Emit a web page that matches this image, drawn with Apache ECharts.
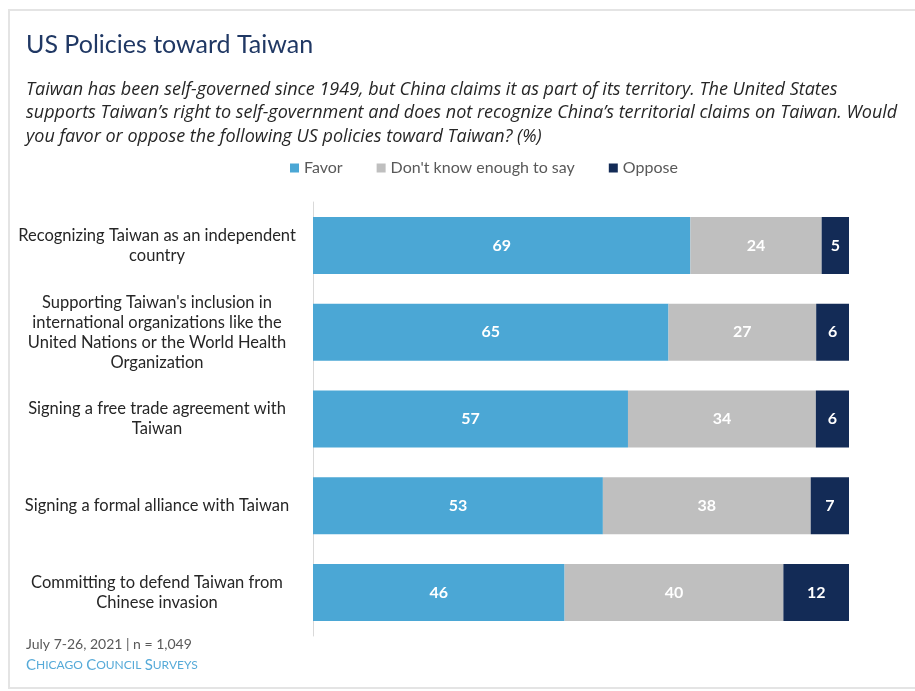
<!DOCTYPE html>
<html>
<head>
<meta charset="utf-8">
<script src="https://cdn.jsdelivr.net/npm/echarts@6/dist/echarts.min.js"></script>
<style>
  html, body { margin: 0; padding: 0; background: #fff; }
  #main { width: 915px; height: 691px; }
</style>
</head>
<body>
<div id="main"></div>
<script>
const categories = [
  'Recognizing Taiwan as an independent\ncountry',
  "Supporting Taiwan's inclusion in\ninternational organizations like the\nUnited Nations or the World Health\nOrganization",
  'Signing a free trade agreement with\nTaiwan',
  'Signing a formal alliance with Taiwan',
  'Committing to defend Taiwan from\nChinese invasion'
]
const seriesNames = ['Favor', "Don't know enough to say", 'Oppose']
const favor = [69, 65, 57, 53, 46]
const dontKnow = [24, 27, 34, 38, 40]
const oppose = [5, 6, 6, 7, 12]

const colors = ['#4ba7d5', '#bfbfbf', '#132b56']
const font = 'Lato, "Noto Sans", sans-serif'

// bars are stretched to full width per row (share of answers given)
const totals = favor.map((v, i) => v + dontKnow[i] + oppose[i])
const share = (arr) => arr.map((v, i) => ({ value: v / totals[i] * 100, raw: v }))

const chart = echarts.init(document.getElementById('main'))

const makeSeries = (name, arr, color) => ({
  name: name,
  type: 'bar',
  stack: 'total',
  barWidth: 57,
  data: share(arr),
  itemStyle: { color: color },
  label: {
    show: true,
    position: 'inside',
    color: '#fff',
    fontFamily: font,
    fontWeight: 'bold',
    fontSize: 16,
    formatter: (p) => p.data.raw,
  },
})

const option = {
  animation: false,
  graphic: [
    {
      type: 'rect',
      shape: { x: 9, y: 10, width: 915, height: 678 },
      style: { fill: 'none', stroke: '#e4e4e4', lineWidth: 2 },
      silent: true,
    },
    {
      type: 'text',
      left: 26,
      top: 32,
      style: {
        text: 'US Policies toward Taiwan',
        fill: '#203864',
        font: '25px ' + font,
      },
    },
    {
      type: 'text',
      left: 26,
      top: 78,
      style: {
        text: 'Taiwan has been self-governed since 1949, but China claims it as part of its territory. The United States\n' +
          'supports Taiwan\u2019s right to self-government and does not recognize China\u2019s territorial claims on Taiwan. Would\n' +
          'you favor or oppose the following US policies toward Taiwan? (%)',
        fill: '#262626',
        font: 'italic 18px "Open Sans", sans-serif',
        lineHeight: 23.5,
      },
    },
    {
      type: 'text',
      left: 26,
      top: 637,
      style: {
        text: 'July 7-26, 2021 | n = 1,049',
        fill: '#595959',
        font: '14px ' + font,
      },
    },
    {
      type: 'text',
      left: 26,
      top: 658,
      style: {
        text: '{b|C}{s|HICAGO} {b|C}{s|OUNCIL} {b|S}{s|URVEYS}',
        rich: {
          b: { fontSize: 15, fontFamily: font, fill: '#56aad8', color: '#56aad8' },
          s: { fontSize: 12, fontFamily: font, fill: '#56aad8', color: '#56aad8' },
        },
      },
    },
  ],
  legend: {
    data: seriesNames,
    left: 290,
    top: 160,
    padding: 0,
    icon: 'rect',
    itemWidth: 9,
    itemHeight: 9,
    itemGap: 34,
    textStyle: { color: '#595959', fontSize: 16, fontFamily: font },
  },
  grid: {
    left: 313,
    right: 66,
    top: 202,
    bottom: 55,
    containLabel: false,
  },
  xAxis: {
    type: 'value',
    min: 0,
    max: 100,
    show: false,
  },
  yAxis: {
    type: 'category',
    data: categories,
    inverse: true,
    axisLine: { show: true, lineStyle: { color: '#d9d9d9', width: 1 } },
    axisTick: { show: false },
    axisLabel: {
      align: 'center',
      margin: 156,
      color: '#262626',
      fontSize: 16.5,
      lineHeight: 20,
      fontFamily: font,
    },
  },
  series: [
    makeSeries(seriesNames[0], favor, colors[0]),
    makeSeries(seriesNames[1], dontKnow, colors[1]),
    makeSeries(seriesNames[2], oppose, colors[2]),
  ],
}

chart.setOption(option)
</script>
</body>
</html>
